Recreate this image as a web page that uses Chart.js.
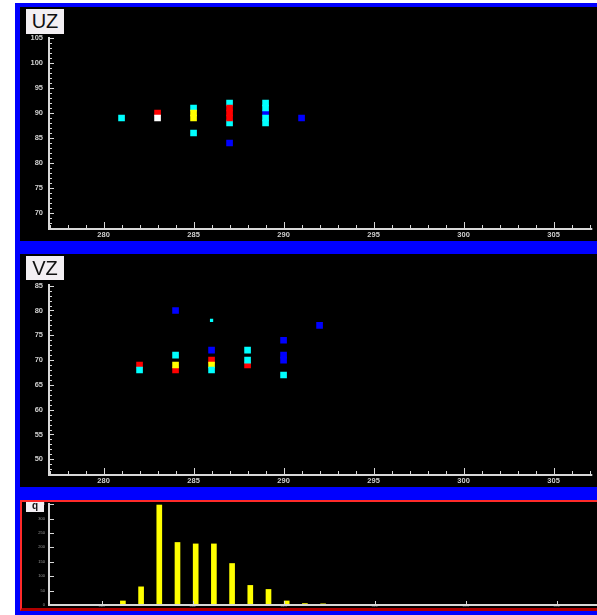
<!DOCTYPE html>
<html lang="en">
<head>
    <meta charset="UTF-8">
    <title>UZ / VZ</title>
    <script src="https://cdn.jsdelivr.net/npm/chart.js"></script>
    <style>
        body { margin: 0; background: #fff; width: 597px; height: 615px; overflow: hidden; position: relative; }
        .frame { position: absolute; left: 15px; top: 3px; width: 582px; height: 612px; background: #0000ff; }
        .panel { position: absolute; left: 20px; width: 577px; background: #000; }
        .hist { position: absolute; left: 20px; top: 500px; width: 577px; height: 111px; box-sizing: border-box; background: #000;
                border-top: 2px solid #ff2a2a; border-left: 2px solid #ff2a2a; border-bottom: 3px solid #b00000; }
        canvas { position: absolute; left: 0; top: 0; display: block; }
        .title { position: absolute; background: #f3eff3; color: #111; text-align: center; overflow: hidden;
                 font-family: "Liberation Sans", Arial, sans-serif; }
    </style>
</head>
<body>
    <div class="frame"></div>
    <div class="panel" style="top:7px;height:234px;"><canvas id="uzChart" width="577" height="234"></canvas></div>
    <div class="panel" style="top:254px;height:233px;"><canvas id="vzChart" width="577" height="233"></canvas></div>
    <div class="hist"><canvas id="histChart" width="575" height="105"></canvas></div>

    <div class="title" style="left:26px;top:9px;width:38px;height:25px;font-size:20px;line-height:25px;">UZ</div>
    <div class="title" style="left:26px;top:256px;width:38px;height:24px;font-size:20px;line-height:24px;">VZ</div>
    <div class="title" style="left:26px;top:502px;width:18px;height:10px;font-size:10px;line-height:8px;font-weight:bold;">q</div>

    <script>
        // UZ panel
        const uzCyanX = [281, 285, 285, 287, 287, 289, 289, 289, 289];
        const uzCyanY = [89, 91, 86, 92, 88, 92, 91, 89, 88];
        const uzRedX = [283, 287, 287, 287];
        const uzRedY = [90, 91, 90, 89];
        const uzYellowX = [285, 285];
        const uzYellowY = [90, 89];
        const uzWhiteX = [283];
        const uzWhiteY = [89];
        const uzBlueX = [287, 289, 291];
        const uzBlueY = [84, 90, 89];

        // VZ panel
        const vzCyanX = [282, 284, 286, 288, 288, 290];
        const vzCyanY = [68, 71, 68, 72, 70, 67];
        const vzCyanSmallX = [286];
        const vzCyanSmallY = [78];
        const vzRedX = [282, 284, 286, 288];
        const vzRedY = [69, 68, 70, 69];
        const vzYellowX = [284, 286];
        const vzYellowY = [69, 69];
        const vzBlueX = [284, 286, 290, 290, 290, 292];
        const vzBlueY = [80, 72, 74, 71, 70, 77];

        // q histogram
        const histBins = [281, 282, 283, 284, 285, 286, 287, 288, 289, 290, 291, 292];
        const histCounts = [14, 63, 347, 217, 212, 212, 144, 68, 54, 14, 5, 4];

        const CYAN = '#00ffff', RED = '#ff0000', YELLOW = '#ffff00', WHITE = '#ffffff', BLUE = '#0000ff';
        const AXIS = '#d8d8d8';

        function pts(xs, ys) {
            return xs.map((x, i) => ({ x: x, y: ys[i] }));
        }

        // axis lines with major/minor tick marks, ROOT style (ticks point inwards)
        const rootAxes = {
            id: 'rootAxes',
            afterDatasetsDraw(chart, args, o) {
                const ctx = chart.ctx, a = chart.chartArea;
                const xs = chart.scales.x, ys = chart.scales.y;
                ctx.save();
                ctx.strokeStyle = AXIS;
                ctx.lineWidth = 2;
                ctx.beginPath();
                ctx.moveTo(a.left, a.top);
                ctx.lineTo(a.left, a.bottom);
                ctx.lineTo(a.right, a.bottom);
                ctx.stroke();

                ctx.lineWidth = 1;
                ctx.beginPath();
                const isMajor = (v, step) => Math.abs(v / step - Math.round(v / step)) < 1e-6;
                for (let n = Math.ceil(ys.min / o.yMinor); n * o.yMinor <= ys.max; n++) {
                    const v = n * o.yMinor;
                    const py = Math.round(ys.getPixelForValue(v)) + 0.5;
                    ctx.moveTo(a.left, py);
                    ctx.lineTo(a.left + (isMajor(v, o.yMajor) ? o.yMajorLen : o.yMinorLen), py);
                }
                for (let n = Math.ceil(xs.min / o.xMinor); n * o.xMinor <= xs.max; n++) {
                    const v = n * o.xMinor;
                    const px = Math.round(xs.getPixelForValue(v)) + 0.5;
                    ctx.moveTo(px, a.bottom);
                    ctx.lineTo(px, a.bottom - (isMajor(v, o.xMajor) ? o.xMajorLen : o.xMinorLen));
                }
                ctx.stroke();
                ctx.restore();
            }
        };

        function noPad(s) {
            s.paddingLeft = 0; s.paddingRight = 0; s.paddingTop = 0; s.paddingBottom = 0;
        }

        function scatterOptions(yMin, yMax, xMin, xMax) {
            const tickFont = { family: 'Liberation Sans', size: 7.5, weight: 'bold' };
            return {
                responsive: false,
                animation: false,
                layout: { padding: { top: 30, left: 0, right: 0, bottom: 0 } },
                plugins: {
                    legend: { display: false },
                    tooltip: { enabled: false },
                    rootAxes: { yMinor: 1, yMajor: 5, yMajorLen: 5, yMinorLen: 3, xMinor: 1, xMajor: 5, xMajorLen: 7, xMinorLen: 4 }
                },
                scales: {
                    x: {
                        type: 'linear', min: xMin, max: xMax,
                        grid: { display: false, drawTicks: false }, border: { display: false },
                        ticks: { stepSize: 5, includeBounds: false, color: '#d0d0d0', font: tickFont, padding: 1, maxRotation: 0, autoSkip: false },
                        afterFit: s => { s.height = 12; noPad(s); }
                    },
                    y: {
                        min: yMin, max: yMax,
                        grid: { display: false, drawTicks: false }, border: { display: false },
                        ticks: { stepSize: 5, includeBounds: false, color: '#d0d0d0', font: tickFont, padding: 6, autoSkip: false },
                        afterFit: s => { s.width = 29; noPad(s); }
                    }
                }
            };
        }

        function sq(label, data, color, r) {
            return { label: label, data: data, backgroundColor: color, pointStyle: 'rect', pointRadius: r || 4.7, borderWidth: 0 };
        }

        // UZ vs x
        new Chart(document.getElementById('uzChart'), {
            type: 'scatter',
            data: {
                datasets: [
                    sq('white', pts(uzWhiteX, uzWhiteY), WHITE),
                    sq('yellow', pts(uzYellowX, uzYellowY), YELLOW),
                    sq('red', pts(uzRedX, uzRedY), RED),
                    sq('cyan', pts(uzCyanX, uzCyanY), CYAN),
                    sq('blue', pts(uzBlueX, uzBlueY), BLUE)
                ]
            },
            options: scatterOptions(66.8, 105.2, 276.97, 307.15),
            plugins: [rootAxes]
        });

        // VZ vs x
        new Chart(document.getElementById('vzChart'), {
            type: 'scatter',
            data: {
                datasets: [
                    sq('cyan', pts(vzCyanX, vzCyanY), CYAN),
                    sq('yellow', pts(vzYellowX, vzYellowY), YELLOW),
                    sq('red', pts(vzRedX, vzRedY), RED),
                    sq('cyan small', pts(vzCyanSmallX, vzCyanSmallY), CYAN, 2.3),
                    sq('blue', pts(vzBlueX, vzBlueY), BLUE)
                ]
            },
            options: scatterOptions(46.83, 85.34, 276.97, 307.15),
            plugins: [rootAxes]
        });

        // q histogram (bars drawn with a small offset inside the bin, like ROOT "B")
        const barOffset = 0.15;
        const smallFont = { family: 'Liberation Sans', size: 4 };
        new Chart(document.getElementById('histChart'), {
            type: 'bar',
            data: {
                datasets: [{
                    label: 'q',
                    data: histBins.map((b, i) => ({ x: b + barOffset, y: histCounts[i] })),
                    backgroundColor: YELLOW,
                    borderWidth: 0,
                    barThickness: 5
                }]
            },
            options: {
                responsive: false,
                animation: false,
                layout: { padding: { top: 1, left: 0, right: 0, bottom: 0 } },
                plugins: {
                    legend: { display: false },
                    tooltip: { enabled: false },
                    rootAxes: { yMinor: 50, yMajor: 50, yMajorLen: 5, yMinorLen: 5, xMinor: 1, xMajor: 5, xMajorLen: 4, xMinorLen: 1 }
                },
                scales: {
                    x: {
                        type: 'linear', min: 277.09, max: 307.2, offset: false,
                        grid: { display: false, drawTicks: false }, border: { display: false },
                        ticks: { stepSize: 5, includeBounds: false, color: '#9a9a9a', font: smallFont, padding: 0, maxRotation: 0, autoSkip: false },
                        afterFit: s => { s.height = 2; noPad(s); }
                    },
                    y: {
                        min: 0, max: 354,
                        grid: { display: false, drawTicks: false }, border: { display: false },
                        ticks: { stepSize: 50, includeBounds: false, color: '#9a9a9a', font: smallFont, padding: 4, autoSkip: false },
                        afterFit: s => { s.width = 27; noPad(s); }
                    }
                }
            },
            plugins: [rootAxes]
        });
    </script>
</body>
</html>
